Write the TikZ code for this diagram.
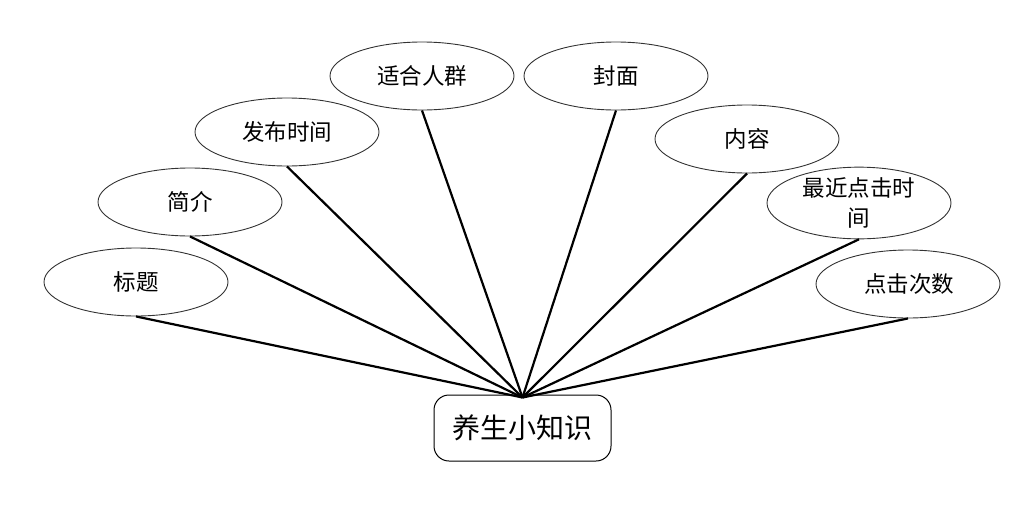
\documentclass[tikz,border=0pt]{standalone}
\usepackage{fontspec}
\setmainfont{Noto Sans CJK SC}
\definecolor{ovline}{HTML}{333333}
\usepackage{tikz}
\usetikzlibrary{arrows.meta, positioning, shapes.geometric, calc}
\usepackage{xcolor}

\tikzset{
  attr/.style={ellipse, draw=ovline, line width=0.9pt, minimum width=184pt,
    minimum height=68pt, inner sep=0pt, font=\fontsize{22.5}{30}\selectfont},
  entity/.style={rounded corners=15pt, draw=black, line width=1pt,
    minimum width=177pt, minimum height=66pt, font=\fontsize{28}{30}\selectfont},
  link/.style={line width=2.2pt}
}

\begin{document}
\begin{tikzpicture}[x=1pt, y=-1pt]
    \useasboundingbox (0,0) rectangle (1022,509);
    \node[entity] (zhishi) at (522.5,428) {养生小知识};
    \coordinate (hub) at ($(zhishi.north)+(0,3)$);

    \node[attr] (biaoti) at (136,282) {标题};
    \node[attr] (jianjie) at (190,202) {简介};
    \node[attr] (fabu) at (287,132) {发布时间};
    \node[attr] (renqun) at (422,76) {适合人群};
    \node[attr] (fengmian) at (616,76) {封面};
    \node[attr] (neirong) at (747,139) {内容};
    \node[attr, align=center] (zuijin) at (859,203) {最近点击时\\间};
    \node[attr] (cishu) at (908,284) {\hspace{2pt}点击次数};

    \foreach \a in {biaoti, jianjie, fabu, renqun, fengmian, neirong, zuijin, cishu}
      \draw[link] (\a.south) -- (hub);
  \end{tikzpicture}
\end{document}
